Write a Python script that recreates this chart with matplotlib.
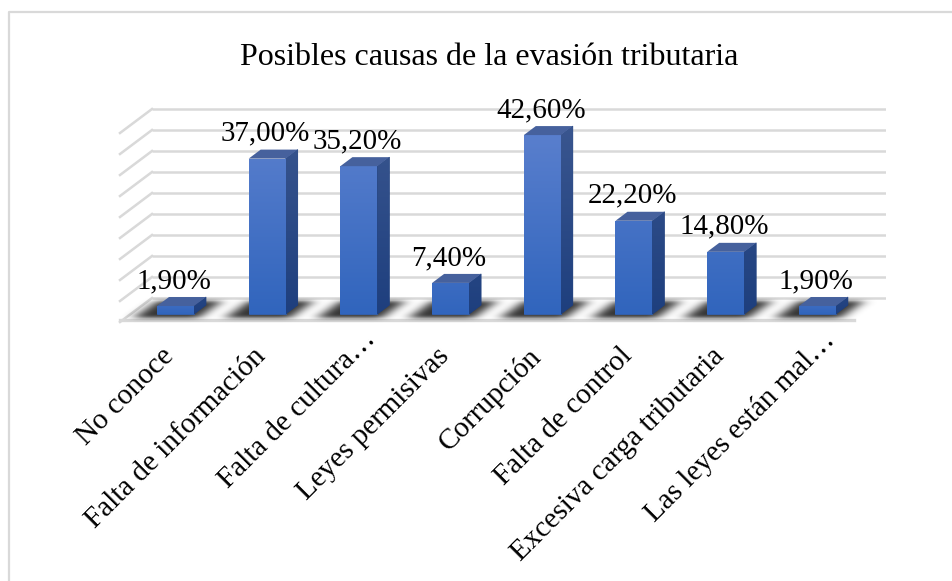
import numpy as np
import matplotlib
matplotlib.use('Agg')
import matplotlib.pyplot as plt
from matplotlib.patches import Polygon
from matplotlib.colors import LinearSegmentedColormap, to_rgb
from matplotlib.transforms import ScaledTranslation

#datos
categorias = ['No conoce', 'Falta de información', 'Falta de cultura…', 'Leyes permisivas',
              'Corrupción', 'Falta de control', 'Excesiva carga tributaria', 'Las leyes están mal…']
valores = [1.9, 37.0, 35.2, 7.4, 42.6, 22.2, 14.8, 1.9]
etiquetas = ['1,90%', '37,00%', '35,20%', '7,40%', '42,60%', '22,20%', '14,80%', '1,90%']
niveles = [0, 5, 10, 15, 20, 25, 30, 35, 40, 45]
titulo = 'Posibles causas de la evasión tributaria'

W, H = 953, 581
plt.rcParams['font.family'] = ['Liberation Serif', 'DejaVu Serif']

fig = plt.figure(figsize=(W / 100, H / 100), dpi=100)
#eje en pixeles: x 94-886, y 325-90
ax = fig.add_axes([94 / W, 1 - 325 / H, (886 - 94) / W, (325 - 90) / H])
PX_X = 91.7   #pixeles por categoria
PX_Y = 4.2    #pixeles por punto porcentual
ax.set_xlim((94 - 175.5) / PX_X, (886 - 175.5) / PX_X)
ax.set_ylim(-11 / PX_Y, 235 / PX_Y - 11 / PX_Y)
ax.set_autoscale_on(False)

#pasa desplazamientos en pixeles a unidades de datos
def dx(px):
    return px / PX_X

def dy(px):
    return px / PX_Y

#rellena un poligono con un degradado vertical
def degradado(puntos, arriba, abajo, z):
    cmap = LinearSegmentedColormap.from_list('g', [arriba, abajo])
    pts = np.array(puntos)
    ax.add_patch(Polygon(puntos, closed=True, fc=abajo, ec=abajo, lw=0.5, zorder=z - 0.1))
    im = ax.imshow(np.linspace(0, 1, 64).reshape(-1, 1), cmap=cmap, aspect='auto', origin='upper',
                   extent=(pts[:, 0].min(), pts[:, 0].max(), pts[:, 1].min(), pts[:, 1].max()),
                   zorder=z, interpolation='bilinear')
    im.set_clip_path(Polygon(puntos, closed=True, transform=ax.transData))

#paredes con lineas de division
GRIS = '#d9d9d9'
fondo_y = dy(16)
x_izq = dx(152 - 175.5)
x_der = dx(886 - 175.5)
for n in niveles:
    y = n + fondo_y
    ax.plot([x_izq, x_der], [y, y], color=GRIS, lw=1.8, zorder=1, solid_capstyle='butt')
    ax.plot([x_izq, x_izq - dx(32)], [y, y - dy(24)], color=GRIS, lw=1.8, zorder=1, clip_on=False)
ax.plot([x_izq - dx(32), dx(854 - 175.5)], [-dy(6), -dy(6)], color=GRIS, lw=2.4, zorder=1)

ancho = 37 / PX_X
prof_x = dx(12)
prof_y = dy(9)
posiciones = np.arange(len(valores))

#sombras difusas sobre el piso: mascara por pixel suavizada con una gaussiana
xlim = ax.get_xlim()
fx = np.arange(94, 886) + 0.5
fy = np.arange(294, 325) + 0.5   #de arriba hacia abajo
mascara = np.zeros((len(fy), len(fx)))
for i in posiciones:
    centro = 175.5 + PX_X * i
    for f, py in enumerate(fy):
        sube = 314 - py
        izq = centro - 18.5 - 18 + sube * 1.4
        der = centro + 18.5 + 10 + sube * 1.4
        if 301 < py < 318:
            mascara[f, (fx > izq) & (fx < der)] = 1
nucleo = np.exp(-0.5 * (np.arange(-18, 19) / 6.5) ** 2)
nucleo = nucleo / nucleo.sum()
for f in range(mascara.shape[0]):
    mascara[f] = np.convolve(mascara[f], nucleo, mode='same')
nucleo_v = np.exp(-0.5 * (np.arange(-6, 7) / 2.0) ** 2)
nucleo_v = nucleo_v / nucleo_v.sum()
for c in range(mascara.shape[1]):
    mascara[:, c] = np.convolve(mascara[:, c], nucleo_v, mode='same')
capa = np.zeros(mascara.shape + (4,))
capa[..., 3] = mascara * 0.8
ax.imshow(capa, aspect='auto', extent=(xlim[0], xlim[1], (314 - 325) / PX_Y, (314 - 294) / PX_Y),
          origin='upper', zorder=2, interpolation='bilinear')

#barras 3D
ax.bar(posiciones, valores, width=ancho, color='#3f6fc4', zorder=3)
for i, v in zip(posiciones, valores):
    izq = i - ancho / 2
    der = i + ancho / 2
    frac = v / 45
    arriba = np.array(to_rgb('#5b80ce'))
    abajo = np.array(to_rgb('#3165bd'))
    degradado([(izq, 0), (der, 0), (der, v), (izq, v)], tuple(abajo + (arriba - abajo) * max(frac, 0.25)), tuple(abajo), 4)
    a2 = np.array(to_rgb('#3b5790'))
    b2 = np.array(to_rgb('#1e3f7e'))
    degradado([(der, 0), (der + prof_x, prof_y), (der + prof_x, v + prof_y), (der, v)],
              tuple(b2 + (a2 - b2) * max(frac, 0.25)), tuple(b2), 4)
    ax.add_patch(Polygon([(izq, v), (der, v), (der + prof_x, v + prof_y), (izq + prof_x, v + prof_y)],
                         closed=True, fc='#46619d', ec='none', zorder=5))

#etiquetas de datos
for i, v, t in zip(posiciones, valores, etiquetas):
    ax.text(i - dx(1.5), v + dy(18), t, ha='center', va='baseline', fontsize=20.9, color='black', zorder=6)

ax.set_xticks(posiciones)
ax.set_xticklabels(categorias, rotation=45, ha='right', rotation_mode='anchor', fontsize=21)
ax.tick_params(axis='x', length=0, pad=13)
for etq in ax.get_xticklabels():
    #las etiquetas cortadas con puntos suspensivos quedan mas arriba y a la derecha
    if etq.get_text().endswith('…'):
        mover = ScaledTranslation(4 / 100, 17 / 100, fig.dpi_scale_trans)
    else:
        mover = ScaledTranslation(-15 / 100, 0, fig.dpi_scale_trans)
    etq.set_transform(etq.get_transform() + mover)
ax.set_yticks([])
for s in ax.spines.values():
    s.set_visible(False)
ax.patch.set_alpha(0)

fig.text(489.5 / W, 1 - 65 / H, titulo, ha='center', va='baseline', fontsize=23)

#marco del grafico: solo se ven el borde superior e izquierdo
fig.add_artist(plt.Line2D([9.5 / W, 9.5 / W, 1], [0, 1 - 11.5 / H, 1 - 11.5 / H], transform=fig.transFigure,
                          color=GRIS, lw=1.6))

fig.savefig('out.png', dpi=100)
